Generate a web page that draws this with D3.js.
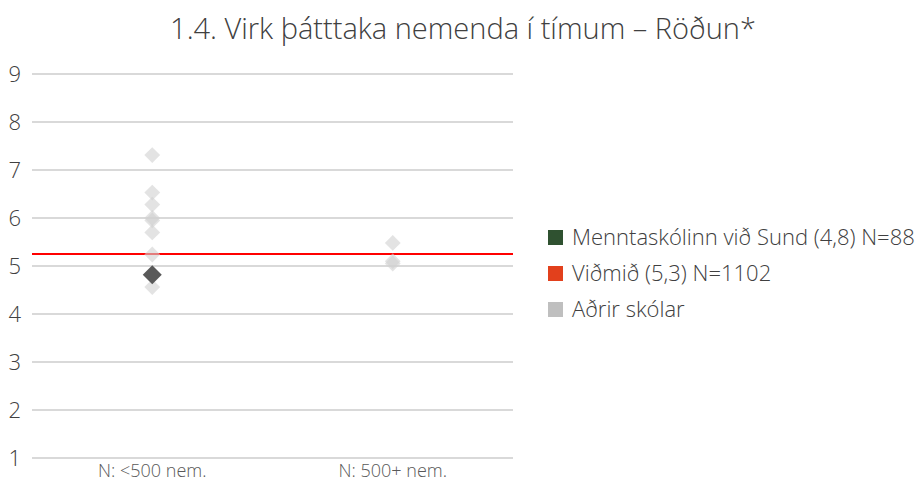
<!DOCTYPE html>
<html>
<head>
<meta charset="utf-8">
<script src="https://cdn.jsdelivr.net/npm/d3@7"></script>
<style>
  body { margin: 0; background: #fff; }
  svg text { font-family: "Open Sans", sans-serif; font-weight: 300; }
</style>
</head>
<body>
<script>
// chart values
var categories = ["N: <500 nem.", "N: 500+ nem."];
var yTicks = [1, 2, 3, 4, 5, 6, 7, 8, 9];
// other schools, per group
var otherSmall = [7.31, 6.53, 6.28, 6.0, 5.95, 5.7, 5.24, 4.56];
var otherLarge = [5.48, 5.1, 5.05];
// this school
var schoolGroup = "N: <500 nem.";
var schoolValue = 4.82;
var benchmark = 5.25;
var legendLabels = ["Menntaskólinn við Sund (4,8) N=88", "Viðmið (5,3) N=1102", "Aðrir skólar"];
var legendColors = ["#2f5130", "#e2401c", "#bfbfbf"];

var W = 918, H = 482;
var margin = {top: 74, left: 32, right: 405, bottom: 24};
var plotW = 513 - margin.left, plotH = 458 - margin.top;

var svg = d3.select("body").append("svg")
  .attr("width", W).attr("height", H);

svg.append("text")
  .attr("x", 463).attr("y", 39)
  .attr("text-anchor", "middle")
  .attr("font-size", 29)
  .attr("fill", "#404040")
  .text("1.4. Virk þátttaka nemenda í tímum – Röðun*");

var g = svg.append("g").attr("transform", "translate(" + margin.left + "," + margin.top + ")");

var x = d3.scaleBand().domain(categories).range([0, plotW]);
var y = d3.scaleLinear().domain([1, 9]).range([plotH, 0]);

// gridlines
g.append("g").selectAll("line")
  .data(yTicks)
  .enter().append("line")
  .attr("x1", 0).attr("x2", plotW)
  .attr("y1", function (d) { return y(d); })
  .attr("y2", function (d) { return y(d); })
  .attr("stroke", "#d9d9d9")
  .attr("stroke-width", 2);

// y labels
g.append("g").selectAll("text")
  .data(yTicks)
  .enter().append("text")
  .attr("x", -11).attr("y", function (d) { return y(d); })
  .attr("dy", "0.35em")
  .attr("text-anchor", "end")
  .attr("font-size", 22)
  .attr("fill", "#404040")
  .text(function (d) { return d; });

// x labels
g.append("g").selectAll("text")
  .data(categories)
  .enter().append("text")
  .attr("x", function (d) { return x(d) + x.bandwidth() / 2; })
  .attr("y", plotH + 19)
  .attr("text-anchor", "middle")
  .attr("font-size", 18)
  .attr("fill", "#595959")
  .text(function (d) { return d; });

// benchmark line
g.append("line")
  .attr("x1", 0).attr("x2", plotW)
  .attr("y1", y(benchmark)).attr("y2", y(benchmark))
  .attr("stroke", "#ff0000")
  .attr("stroke-width", 2);

var others = otherSmall.map(function (v) { return {cat: categories[0], v: v}; })
  .concat(otherLarge.map(function (v) { return {cat: categories[1], v: v}; }));

var diamond = d3.symbol().type(d3.symbolSquare);

g.append("g").selectAll("path")
  .data(others)
  .enter().append("path")
  .attr("d", diamond.size(125)())
  .attr("transform", function (d) {
    return "translate(" + (x(d.cat) + x.bandwidth() / 2) + "," + y(d.v) + ") rotate(45)";
  })
  .attr("fill", "#d0d0d0")
  .attr("fill-opacity", 0.6);

g.append("path")
  .attr("d", diamond.size(180)())
  .attr("transform", "translate(" + (x(schoolGroup) + x.bandwidth() / 2) + "," + y(schoolValue) + ") rotate(45)")
  .attr("fill", "#595959");

// legend
var legend = svg.append("g").attr("transform", "translate(548,237)");
var rows = legend.selectAll("g")
  .data(legendLabels)
  .enter().append("g")
  .attr("transform", function (d, i) { return "translate(0," + (i * 36) + ")"; });
rows.append("rect")
  .attr("x", 0).attr("y", -7)
  .attr("width", 15).attr("height", 15)
  .attr("fill", function (d, i) { return legendColors[i]; });
rows.append("text")
  .attr("x", 24).attr("y", 0)
  .attr("dy", "0.35em")
  .attr("font-size", 22)
  .attr("fill", "#404040")
  .text(function (d) { return d; });
</script>
</body>
</html>
